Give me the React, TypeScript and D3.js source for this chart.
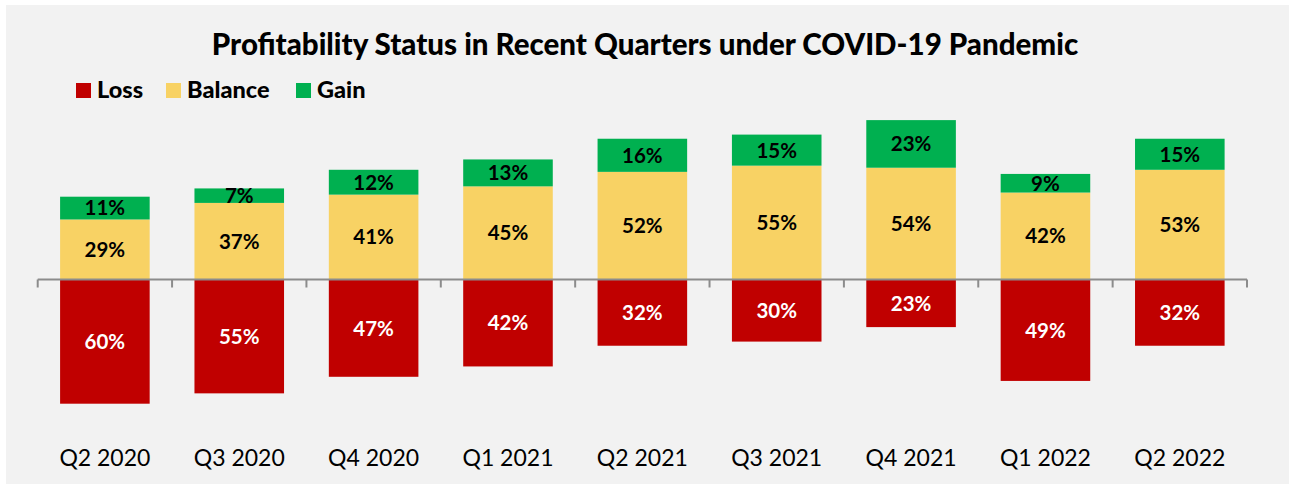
import React from "react";
import * as d3 from "d3";

const categories = ["Q2 2020", "Q3 2020", "Q4 2020", "Q1 2021", "Q2 2021", "Q3 2021", "Q4 2021", "Q1 2022", "Q2 2022"];
const lossValues = [60, 55, 47, 42, 32, 30, 23, 49, 32];
const balanceValues = [29, 37, 41, 45, 52, 55, 54, 42, 53];
const gainValues = [11, 7, 12, 13, 16, 15, 23, 9, 15];
const seriesNames = ["Loss", "Balance", "Gain"];
const seriesColors = ["#C00000", "#F8D264", "#00B050"];
const title = "Profitability Status in Recent Quarters under COVID-19 Pandemic";

const W = 1289;
const H = 484;
const FONT = "Lato, 'Noto Sans', sans-serif";

export default function App() {
  const x = d3.scaleBand<string>().domain(categories).range([37.7, 1247]).paddingInner(1 / 3).paddingOuter(1 / 6);
  const y = d3.scaleLinear().domain([-80, 80]).range([279.5 + 80 * 2.07, 279.5 - 80 * 2.07]);
  const step = x.step();
  const x0 = x.range()[0];
  const tickXs = d3.range(categories.length + 1).map((i) => x0 + i * step);

  const segs: { cat: string; y0: number; y1: number; v: number; s: number }[] = [];
  categories.forEach((c, i) => {
    segs.push({ cat: c, y0: -lossValues[i], y1: 0, v: lossValues[i], s: 0 });
    segs.push({ cat: c, y0: 0, y1: balanceValues[i], v: balanceValues[i], s: 1 });
    segs.push({ cat: c, y0: balanceValues[i], y1: balanceValues[i] + gainValues[i], v: gainValues[i], s: 2 });
  });

  const legendX = [76, 166, 296];

  return (
    <div style={{ position: "fixed", left: 0, top: 0 }}>
      <svg width={W} height={H} style={{ display: "block" }}>
        <rect x={0} y={0} width={W} height={H} fill="#ffffff" />
        <rect x={6} y={5} width={W - 6} height={H - 5} fill="#F2F2F2" />
        <text x={645} y={55} textAnchor="middle" fontFamily={FONT} fontWeight="900" fontSize={29.5} fill="#000">
          {title}
        </text>
        {seriesNames.map((n, i) => (
          <g key={n}>
            <rect x={legendX[i]} y={83} width={15} height={15} fill={seriesColors[i]} />
            <text x={legendX[i] + 21} y={98} fontFamily={FONT} fontWeight="900" fontSize={23.5} fill="#000">
              {n}
            </text>
          </g>
        ))}
        {segs.map((d, i) => {
          const bx = x(d.cat)!;
          const top = y(d.y1);
          const bot = y(d.y0);
          return (
            <g key={i}>
              <rect x={bx} y={top} width={x.bandwidth()} height={bot - top} fill={seriesColors[d.s]} />
            </g>
          );
        })}
        <line x1={tickXs[0]} x2={tickXs[tickXs.length - 1]} y1={y(0)} y2={y(0)} stroke="#8C8C8C" strokeWidth={2} />
        {tickXs.map((tx, i) => (
          <line key={i} x1={tx} x2={tx} y1={y(0)} y2={y(0) + 8} stroke="#8C8C8C" strokeWidth={2} />
        ))}
        {segs.map((d, i) => {
          const bx = x(d.cat)! + x.bandwidth() / 2;
          const cy = (y(d.y1) + y(d.y0)) / 2;
          return (
            <text key={"l" + i} x={bx} y={cy} dy="0.36em" textAnchor="middle" fontFamily={FONT} fontWeight="bold" fontSize={20.5} fill={d.s === 0 ? "#ffffff" : "#000000"}>
              {d.v}%
            </text>
          );
        })}
        {categories.map((c) => (
          <text key={c} x={x(c)! + x.bandwidth() / 2} y={466} textAnchor="middle" fontFamily={FONT} fontSize={23} fill="#000">
            {c}
          </text>
        ))}
      </svg>
    </div>
  );
}
